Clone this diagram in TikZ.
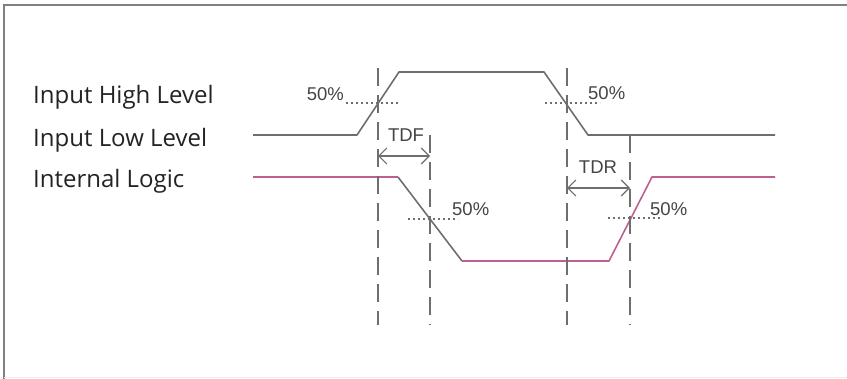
\documentclass[tikz,border=0pt]{standalone}
\usepackage{fontspec}
\setmainfont{Open Sans}
\newfontfamily\smallfont{Liberation Sans}
\usetikzlibrary{arrows.meta}
\definecolor{sig}{RGB}{110,110,110}
\definecolor{logic}{RGB}{190,95,145}
\definecolor{txt}{RGB}{35,35,35}
\definecolor{frm}{RGB}{128,128,128}
\tikzset{
  wave/.style={draw=sig, line width=1.6pt, line join=round},
  logicwave/.style={draw=logic, line width=1.6pt, line join=round},
  guide/.style={draw=sig, line width=1.6pt, dash pattern=on 18pt off 9pt},
  halfline/.style={draw=sig, line width=1.1pt, dash pattern=on 2pt off 3pt},
  delay/.style={draw=sig, line width=1.2pt, {Straight Barb[length=8pt,width=16pt]}-{Straight Barb[length=8pt,width=16pt]}},
  sidelabel/.style={inner sep=0pt, anchor=base west, text=txt, font=\fontsize{24}{28}\selectfont},
  smalllabel/.style={inner sep=0pt, text=txt!85, font=\smallfont\fontsize{18.5}{21}\selectfont},
}
\begin{document}
\begin{tikzpicture}[x=1pt,y=-1pt]
\useasboundingbox (0,0) rectangle (847,379);
% frame
\draw[frm, line width=2pt] (4,379) -- (4,5) -- (847,5);
\draw[black!7, line width=1pt] (4,378) -- (847,378);
% side labels
\node[sidelabel] (lhigh) at (33,104) {Input High Level};
\node[sidelabel] (llow) at (33,147) {Input Low Level};
\node[sidelabel] (llogic) at (33,188) {Internal Logic};
% input waveform points
\coordinate (i0) at (253,135);
\coordinate (i1) at (357,135);
\coordinate (i2) at (399,72);
\coordinate (i3) at (544,72);
\coordinate (i4) at (588,135);
\coordinate (i5) at (775,135);
\draw[wave] (i0) -- (i1) -- (i2) -- (i3) -- (i4) -- (i5);
% internal logic waveform points
\coordinate (g0) at (253,177);
\coordinate (g1) at (398,177);
\coordinate (g2) at (462,261);
\coordinate (g3) at (609,261);
\coordinate (g4) at (652,177);
\coordinate (g5) at (775,177);
\draw[logicwave] (g0) -- (g1);
\draw[wave] (g1) -- (g2);
\draw[logicwave] (g2) -- (g3) -- (g4) -- (g5);
% vertical guides
\coordinate (v1t) at (378,68);  \coordinate (v1b) at (378,325);
\coordinate (v2t) at (430,135); \coordinate (v2b) at (430,325);
\coordinate (v3t) at (567,68);  \coordinate (v3b) at (567,325);
\coordinate (v4t) at (630,135); \coordinate (v4b) at (630,325);
\draw[guide] (v1t) -- (v1b);
\draw[guide] (v2t) -- (v2b);
\draw[guide] (v3t) -- (v3b);
\draw[guide] (v4t) -- (v4b);
% 50% lines
\coordinate (h1a) at (346,103); \coordinate (h1b) at (399,103);
\coordinate (h2a) at (545,103); \coordinate (h2b) at (600,103);
\coordinate (h3a) at (408,219); \coordinate (h3b) at (458,219);
\coordinate (h4a) at (608,218); \coordinate (h4b) at (662,218);
\draw[halfline] (h1a) -- (h1b);
\draw[halfline] (h2a) -- (h2b);
\draw[halfline] (h3a) -- (h3b);
\draw[halfline] (h4a) -- (h4b);
\node[smalllabel, anchor=base east] (p1) at (344,101) {50\%};
\node[smalllabel, anchor=base west] (p2) at (588,100) {50\%};
\node[smalllabel, anchor=base west] (p3) at (452,216) {50\%};
\node[smalllabel, anchor=base west] (p4) at (650,216) {50\%};
% delays
\coordinate (tdfa) at (378,156); \coordinate (tdfb) at (430,156);
\coordinate (tdra) at (567,188); \coordinate (tdrb) at (630,188);
\draw[delay] (tdfa) -- (tdfb);
\draw[delay] (tdra) -- (tdrb);
\node[smalllabel, anchor=base] (tdf) at (406,142) {TDF};
\node[smalllabel, anchor=base] (tdr) at (598,174) {TDR};
\end{tikzpicture}
\end{document}
